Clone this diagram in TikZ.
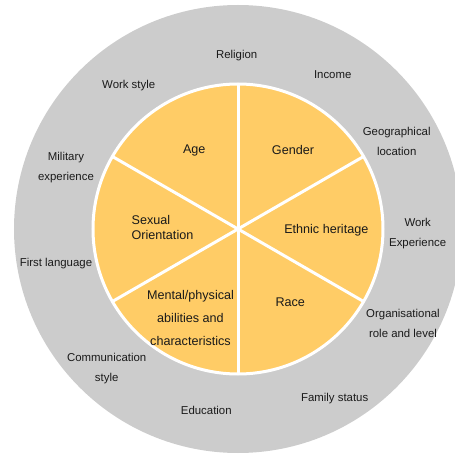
\documentclass[tikz,border=0pt]{standalone}
\usepackage{fontspec}
\setmainfont{Liberation Sans}
\definecolor{ringgrey}{HTML}{CCCCCC}
\definecolor{coreyellow}{HTML}{FFCC66}
\definecolor{labelink}{HTML}{1A1A1A}

\begin{document}
\begin{tikzpicture}[x=1pt, y=1pt,
        outer/.style={text=labelink, align=center, inner sep=0pt,
              font=\fontsize{11.4}{20}\selectfont},
        inner/.style={text=labelink, align=center, inner sep=0pt,
              font=\fontsize{12.6}{15}\selectfont}]
    \clip (-238,-226) rectangle (217,229);
    % outer ring and inner pie
    \fill[ringgrey] (0,0) circle (224);
    \filldraw[fill=coreyellow, draw=white, line width=3pt] (0,0) circle (145);
    \foreach \a in {90,30,-30,-90,-150,150}
        \draw[white, line width=3pt] (0,0) -- (\a:145);

    \begin{scope}[yshift=-2pt]
    % inner dimensions
    \node[inner] (age)    at (-43.7, 80.3) {Age};
    \node[inner] (gender) at (55, 81.3)    {Gender};
    \node[inner, align=left] (sexual) at (-75.5, 4) {Sexual\\Orientation};
    \node[inner] (ethnic) at (88.3, 0.3)   {Ethnic heritage};
    \node[inner, font=\fontsize{12.6}{23}\selectfont]
        (mental) at (-47.5, -86.5) {Mental/physical\\abilities and\\characteristics};
    \node[inner] (race)   at (52.3, -71.7) {Race};

    % outer dimensions
    \node[outer] (religion)  at (-1.3, 175)    {Religion};
    \node[outer] (income)    at (94.7, 156.3)  {Income};
    \node[outer] (workstyle) at (-109.3, 145)  {Work style};
    \node[outer] (geo)       at (158.7, 90)    {Geographical\\location};
    \node[outer] (military)  at (-172, 63)     {Military\\experience};
    \node[outer] (workexp)   at (179.7, -3)    {Work\\Experience};
    \node[outer] (firstlang) at (-182, -33)    {First language};
    \node[outer] (orgrole)   at (165, -92)     {Organisational\\role and level};
    \node[outer] (comm)      at (-131.3, -138) {Communication\\style};
    \node[outer] (family)    at (96.7, -168)   {Family status};
    \node[outer] (education) at (-31.7, -179)  {Education};
    \end{scope}
\end{tikzpicture}
\end{document}
